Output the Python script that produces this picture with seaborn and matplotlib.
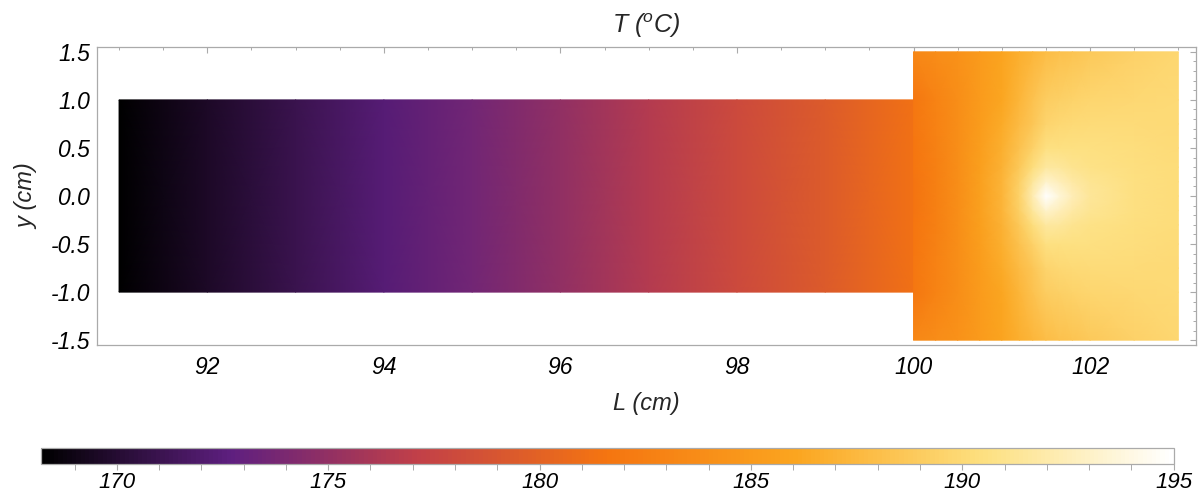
import numpy as np
import matplotlib
matplotlib.use("Agg")
import matplotlib.pyplot as plt
from matplotlib.ticker import MultipleLocator, FormatStrFormatter
import seaborn as sns

# ---- temperature data (°C) ----
# narrow channel: 91–100 cm long, |y| <= 1 cm; temperature varies along L only
channel_L = [91.0, 92.0, 93.0, 94.0, 95.0, 96.0, 97.0, 98.0, 99.0, 100.0]
channel_T = [168.2, 169.6, 171.0, 172.3, 173.6, 175.0, 176.5, 178.0, 179.5, 181.2]
channel_y = [-1.0, 1.0]

# wide block: 100–103 cm, |y| <= 1.5 cm, heat source at (101.5, 0)
block_L = [100.0, 100.25, 100.5, 100.75, 101.0, 101.2, 101.35, 101.5, 101.65, 101.8, 102.0, 102.5, 103.0]
block_y_half = [0.0, 0.15, 0.3, 0.5, 0.75, 1.0, 1.5]
block_T_y000 = [181.5, 182.6, 184.0, 185.6, 187.2, 189.5, 192.2, 195.0, 193.6, 192.4, 191.4, 190.5, 190.2]
block_T_y015 = [181.5, 182.6, 184.0, 185.6, 187.2, 189.3, 191.5, 193.2, 192.5, 191.8, 191.2, 190.5, 190.2]
block_T_y030 = [181.6, 182.6, 184.0, 185.5, 187.0, 188.8, 190.3, 191.6, 191.5, 191.1, 190.8, 190.4, 190.2]
block_T_y050 = [181.7, 182.7, 184.0, 185.4, 186.8, 188.2, 189.4, 190.5, 190.6, 190.6, 190.5, 190.3, 190.1]
block_T_y075 = [181.8, 182.8, 184.0, 185.2, 186.5, 187.7, 188.6, 189.6, 189.9, 190.0, 190.1, 190.1, 190.0]
block_T_y100 = [181.8, 182.9, 184.0, 185.1, 186.2, 187.3, 188.2, 189.1, 189.3, 189.5, 189.7, 189.9, 190.0]
block_T_y150 = [183.3, 183.8, 184.3, 185.1, 185.9, 186.8, 187.3, 187.8, 188.1, 188.4, 188.8, 189.4, 189.8]

T_min, T_max = 168.2, 195.0
cbar_ticks = [170, 175, 180, 185, 190, 195]

# sunset-style colour ramp: black -> purple -> red -> orange -> yellow -> white
sunset = ["#000000", "#5e1f80", "#c24048", "#f57510", "#fba51f", "#fde080", "#ffffff"]
cmap = sns.blend_palette(sunset, as_cmap=True)

sns.set_style("white")
plt.rcParams["font.family"] = ["Liberation Sans", "DejaVu Sans"]
plt.rcParams["font.style"] = "italic"
plt.rcParams["mathtext.fontset"] = "custom"
plt.rcParams["mathtext.it"] = "Liberation Sans:italic"
plt.rcParams["mathtext.rm"] = "Liberation Sans:italic"

W, H = 1198, 496
fig = plt.figure(figsize=(W / 100, H / 100), dpi=100)
ax = fig.add_axes([97 / W, (H - 345) / H, 1099 / W, 298 / H])
cax = fig.add_axes([40.7 / W, (H - 464) / H, 1133 / W, 16 / H])

# channel section
CL, CY = np.meshgrid(channel_L, channel_y)
CT = np.vstack([channel_T, channel_T])
mesh = ax.pcolormesh(CL, CY, CT, cmap=cmap, vmin=T_min, vmax=T_max,
                     shading="gouraud", rasterized=True)

# block section (symmetric about y = 0)
half_rows = [block_T_y000, block_T_y015, block_T_y030, block_T_y050,
             block_T_y075, block_T_y100, block_T_y150]
rows = half_rows[::-1] + half_rows[1:]
ys = [-v for v in block_y_half[::-1]] + block_y_half[1:]
BL, BY = np.meshgrid(block_L, ys)
BT = np.array(rows)
ax.pcolormesh(BL, BY, BT, cmap=cmap, vmin=T_min, vmax=T_max,
              shading="gouraud", rasterized=True)

ax.set_xlim(90.75, 103.2)
ax.set_ylim(-1.55, 1.55)

frame_col = "#aaaaaa"
for sp in ax.spines.values():
    sp.set_color(frame_col)
    sp.set_linewidth(0.9)

ax.xaxis.set_major_locator(MultipleLocator(2))
ax.xaxis.set_minor_locator(MultipleLocator(0.5))
ax.yaxis.set_major_locator(MultipleLocator(0.5))
ax.yaxis.set_minor_locator(MultipleLocator(0.1))
ax.yaxis.set_major_formatter(FormatStrFormatter("%.1f"))
ax.tick_params(which="both", direction="in", top=True, right=True,
               color=frame_col, labelsize=16.5, labelcolor="black")
ax.tick_params(which="major", length=4.5, width=0.8)
ax.tick_params(which="minor", length=2.5, width=0.7)
ax.tick_params(axis="x", which="major", pad=8)
ax.tick_params(axis="y", which="major", pad=5)

ax.set_title(r"$T\ (^{o}C)$", fontsize=18, pad=10)
ax.set_xlabel("L (cm)", fontsize=17, labelpad=9)
ax.set_ylabel("y (cm)", fontsize=17, labelpad=9)

# colour bar
cb = fig.colorbar(mesh, cax=cax, orientation="horizontal")
cb.set_ticks(cbar_ticks)
cb.ax.xaxis.set_minor_locator(MultipleLocator(1))
cb.outline.set_edgecolor(frame_col)
cb.outline.set_linewidth(0.9)
cax.tick_params(which="both", direction="out", bottom=True, color=frame_col,
                labelsize=16, labelcolor="black")
cax.tick_params(which="major", length=4, width=0.8, pad=1.5)
cax.tick_params(which="minor", length=4, width=0.7)

fig.savefig("out.png", dpi=100)
